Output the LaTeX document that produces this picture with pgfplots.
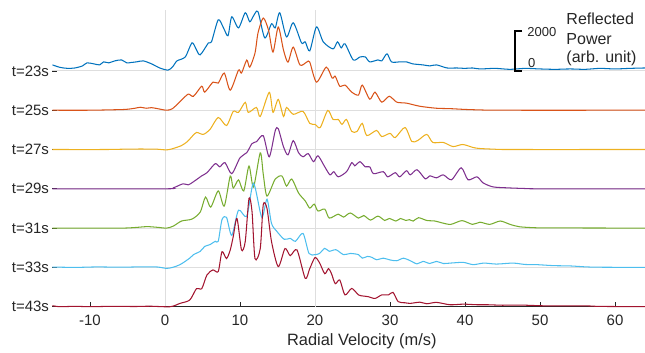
\documentclass[border=0pt]{standalone}
\usepackage{pgfplots}
\pgfplotsset{compat=1.18}
\usepackage{fontspec}
\setmainfont{Liberation Sans}
\definecolor{c1}{rgb}{0,0.447,0.741}
\definecolor{c2}{rgb}{0.85,0.325,0.098}
\definecolor{c3}{rgb}{0.929,0.694,0.125}
\definecolor{c4}{rgb}{0.494,0.184,0.556}
\definecolor{c5}{rgb}{0.466,0.674,0.188}
\definecolor{c6}{rgb}{0.301,0.745,0.933}
\definecolor{c7}{rgb}{0.635,0.078,0.184}
\definecolor{axc}{rgb}{0.15,0.15,0.15}
\begin{document}
\begin{tikzpicture}
\begin{axis}[name=ax, scale only axis, width=592.5pt, height=296.7pt,
 xmin=-15, xmax=64, ymin=0, ymax=15100, clip=false,
 axis x line=bottom, axis y line=left,
 x axis line style={-, draw=axc, line width=0.8pt},
 y axis line style={draw=none},
 xtick={-10,0,...,60}, ytick={0,2000,...,12000},
 scaled y ticks=false, scaled x ticks=false,
 yticklabels={t=43s,t=33s,t=31s,t=29s,t=27s,t=25s,t=23s},
 tick align=inside, major tick length=5pt,
 tick style={axc, line width=0.8pt},
 ymajorgrids, grid style={black!13, line width=0.9pt},
 extra x ticks={0,20}, extra x tick labels={},
 extra x tick style={grid=major, major tick length=0pt},
 /pgf/number format/assume math mode=true,
 ticklabel style={font=\fontsize{15}{18}\selectfont, text=axc},
 xticklabel style={anchor=base, yshift=-19pt},
 xlabel={Radial Velocity (m/s)},
 xlabel style={at={(axis description cs:0.522,0)}, anchor=base, yshift=-39pt, font=\fontsize{16.4}{19}\selectfont, text=axc},
 every axis plot/.append style={line width=1.05pt, smooth, tension=0.45},
]
% t=23s
\addplot[c1] table[x index=0, y expr=\thisrowno{1}+12000] {
-15 306
-14 180
-13 130
-12 150
-11 255
-10.4 410
-9.5 360
-8.7 306
-8.2 460
-7.5 410
-6.7 510
-5.8 560
-5.1 410
-4.5 430
-3.8 460
-2.9 510
-1.8 360
-0.7 150
0.4 40
1.0 200
1.6 510
2.7 710
3.6 1430
4.2 1070
4.7 820
5.8 1430
6.2 1480
7.1 2600
7.8 2190
8.4 1790
8.9 2750
9.8 2190
10.7 2960
11.3 2500
11.8 2800
12.4 3010
13.3 1680
14.2 2400
14.7 2190
15.3 2960
16.2 1730
17.1 2450
18.2 1430
18.7 1480
19.3 1020
20.2 2240
21.1 1480
22.4 1120
23.0 1480
23.5 1170
24.0 1380
25.1 560
26.0 710
26.7 710
27.3 460
28.4 560
28.9 510
29.6 870
30.2 460
31.3 460
32.2 460
33.0 360
34.4 306
35.3 255
36.2 306
37.6 150
38.9 150
40 130
41 150
42 100
44 130
46 80
48 130
50 100
52 80
54 100
56 80
58 130
60 100
62 130
64 150
};
% t=25s
\addplot[c2] table[x index=0, y expr=\thisrowno{1}+10000] {
-15 0
-10 0
-6 30
-5 50
-4 100
-3.3 150
-2.5 100
-1.8 130
-1 80
0.2 0
1 80
2.2 510
3.1 820
3.8 710
4.9 1220
5.3 920
6.4 1430
7.1 1380
7.9 1890
8.7 1020
9.8 2040
10.2 1890
10.9 2550
11.3 2190
12.0 2910
12.4 3930
13.1 4690
13.8 4080
14.4 2960
15.1 4230
15.8 3060
16.4 2450
17.1 3210
18.0 2300
18.9 2450
19.3 2450
20.2 1430
21.5 2190
22.3 1630
22.7 1730
23.3 1220
24.0 1280
24.9 920
25.8 770
26.3 1280
27.3 560
28.0 920
28.9 410
29.9 710
30.9 410
32.2 360
34 200
36.2 100
38 80
40 40
42 15
45 0
64 0
};
% t=27s
\addplot[c3] table[x index=0, y expr=\thisrowno{1}+8000] {
-15 0
-8 0
-5 20
-3 25
-1 15
0.2 -20
1 40
2.2 200
3.0 410
3.6 660
4.2 870
5.1 770
6.0 1020
7.1 1630
8.2 1220
9.1 1940
9.8 1890
10.7 2400
11.1 1890
12.2 2140
12.7 1680
13.9 2910
14.4 1890
15.1 2550
15.8 1680
16.2 2140
17.1 1790
18.4 1940
19.3 1330
20.0 1280
20.7 1120
21.7 1990
22.4 1530
23.1 1530
23.6 1280
24.2 1530
24.9 920
25.6 920
26.3 1330
26.9 710
28.2 970
28.9 660
30.0 820
30.7 610
32.0 1120
32.9 410
33.7 460
34.9 770
35.7 360
37.1 360
38.4 150
39.7 255
41.1 100
42 50
44 15
46 0
64 0
};
% t=29s
\addplot[c4] table[x index=0, y expr=\thisrowno{1}+6000] {
-15 0
0 0
1.1 50
2.4 255
3.1 200
3.8 360
4.9 660
5.6 820
6.7 1280
7.3 1120
8.0 1330
8.9 770
10.0 1580
10.9 1840
11.6 2300
12.2 2400
13.1 2700
13.9 1630
14.7 2960
15.1 3060
15.8 2140
16.4 1730
17.1 2450
17.8 1840
18.4 1630
19.1 1790
19.8 1380
20.4 1680
21.3 1120
22.0 710
22.5 870
23.1 610
24.2 870
24.9 1330
25.3 1170
26.0 1380
26.7 1120
27.3 1120
27.8 770
29.1 870
29.7 610
30.7 820
31.3 610
32.2 920
32.7 710
33.6 970
34.7 510
35.3 660
36.2 560
37.1 710
38.2 460
39.5 1070
40.4 460
41.6 610
42.4 306
43.7 100
45.6 50
48 15
50 0
64 0
};
% t=31s
\addplot[c5] table[x index=0, y expr=\thisrowno{1}+4000] {
-15 0
-6 0
-4 30
-2.4 75
-1 40
0.2 0
1.1 100
2.2 360
3.6 460
4.7 820
5.4 1580
6.1 1070
7.1 1890
7.9 1120
8.7 2650
9.1 2040
9.8 2450
10.5 1890
11.2 3160
11.8 2090
12.7 3830
13.1 2750
13.6 1630
14.7 2500
15.6 2650
16.2 2140
16.9 2500
17.8 1790
18.7 1380
19.3 1020
19.9 1220
20.4 870
21.3 970
21.9 510
23.1 710
23.8 560
24.7 770
25.8 510
26.5 640
27.4 410
28.4 610
29.3 390
29.9 490
30.8 360
31.4 490
32.1 390
32.6 430
33.1 360
33.8 530
34.9 390
36.0 360
36.9 270
38.1 190
39.6 380
41.0 190
42.0 300
43.3 190
44.7 360
46 190
47.3 66
49.6 15
52 10
64 0
};
% t=33s
\addplot[c6] table[x index=0, y expr=\thisrowno{1}+2000] {
-15 20
-12 0
-9 25
-6 10
-3 30
-1 20
0.2 -50
1.0 0
2.0 140
3.3 470
3.8 650
4.7 820
5.3 1070
6.0 1160
6.7 1330
7.1 1330
7.6 2430
8.2 2550
8.9 1630
9.8 2910
10.9 2600
11.8 4280
12.9 2550
13.6 3470
14.2 2240
14.9 1840
15.9 1430
16.7 1480
17.4 1330
18.4 1730
19.2 710
20.0 650
20.6 710
21.3 970
21.9 820
22.8 900
23.8 650
24.7 710
25.8 650
26.3 470
27.0 560
27.6 510
28.2 390
29.1 470
30.0 380
30.9 340
31.8 470
32.7 340
33.6 180
34.4 306
35.3 200
36.2 306
37.1 200
38.4 230
39.8 255
41.1 140
42.5 220
44.2 170
46.4 220
48 150
49.6 140
51.8 90
54 75
56.2 25
58 10
64 0
};
% t=43s
\addplot[c7] table[x index=0, y expr=\thisrowno{1}] {
-15 50
-14 0
-12 20
-10 0
-7 20
-4 10
-2 25
0.7 0
2.0 170
3.3 340
4.2 920
4.9 920
5.6 1620
6.4 1870
7.1 1790
7.6 2800
8.2 2450
8.7 2890
9.1 3570
9.6 4490
10.2 2890
10.7 3320
11.2 5510
11.6 4850
12.0 2450
12.7 2960
13.1 5190
13.6 5000
14.2 3320
15.1 2040
16.0 2960
16.7 2600
17.6 2890
18.7 1440
19.3 1940
20.0 2500
20.6 2240
21.3 1680
21.8 1940
22.2 1680
22.7 1170
23.3 1360
24.0 600
24.9 930
25.8 600
26.5 540
27.1 510
28.0 420
28.9 600
29.8 600
30.4 730
31.1 255
32.0 200
32.7 170
34.0 230
34.9 150
36.2 220
38.0 100
39.8 130
41.6 100
43 100
45 75
47.3 85
50 50
52 40
56.2 40
58 15
64 0
};
% scale bar
\draw[line width=2pt, black] (axis cs:47.6,14050) -- (axis cs:46.7,14050) -- (axis cs:46.7,12000) -- (axis cs:47.6,12000);
\node[anchor=base west, inner sep=0, font=\fontsize{13}{15}\selectfont, text=axc] at (axis cs:48.3,13740) {2000};
\node[anchor=base west, inner sep=0, font=\fontsize{13}{15}\selectfont, text=axc] at (axis cs:48.4,12163) {0};
\node[anchor=base west, inner sep=0, font=\fontsize{16}{19}\selectfont, text=axc] at (axis cs:53.5,14346) {Reflected};
\node[anchor=base west, inner sep=0, font=\fontsize{16}{19}\selectfont, text=axc] at (axis cs:53.5,13360) {Power};
\node[anchor=base west, inner sep=0, font=\fontsize{16}{19}\selectfont, text=axc] at (axis cs:53.5,12420) {(arb. unit)};
\end{axis}
\pgfresetboundingbox
\path[use as bounding box] ([xshift=-52.5pt,yshift=-45.3pt]ax.south west) rectangle ([yshift=10pt]ax.north east);
\end{tikzpicture}
\end{document}
